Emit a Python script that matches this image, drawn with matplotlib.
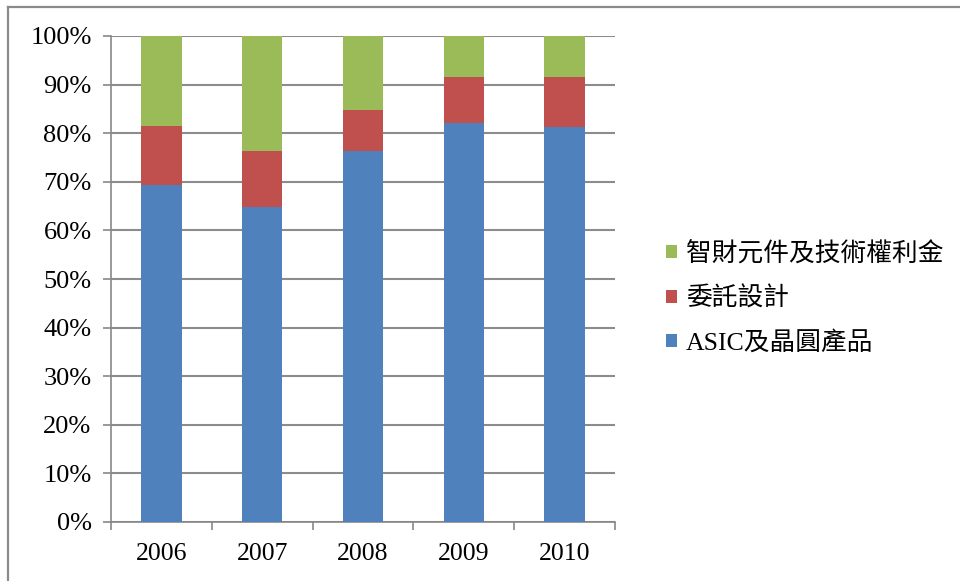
import matplotlib
matplotlib.use("Agg")
import matplotlib.pyplot as plt
from matplotlib.lines import Line2D
from matplotlib.ticker import PercentFormatter, FixedLocator

plt.rcParams['font.family'] = ['Liberation Serif', 'Noto Sans CJK TC']

years = ["2006", "2007", "2008", "2009", "2010"]
asic = [69.3, 64.9, 76.3, 82.0, 81.3]
design = [12.2, 11.4, 8.4, 9.6, 10.3]
ip = [18.5, 23.7, 15.3, 8.4, 8.4]

labels = ["ASIC及晶圓產品", "委託設計", "智財元件及技術權利金"]
colors = ["#4f81bd", "#c0504d", "#9bbb59"]

fig = plt.figure(figsize=(9.6, 5.81), dpi=100)
ax = fig.add_axes([111 / 960, 59 / 581, 504 / 960, 486 / 581])

x = range(len(years))
bottom = [0] * len(years)
for vals, lab, col in zip([asic, design, ip], labels, colors):
    ax.bar(x, vals, width=0.4, bottom=bottom, color=col, label=lab, zorder=3)
    bottom = [b + v for b, v in zip(bottom, vals)]

ax.set_xlim(-0.5, len(years) - 0.5)
ax.set_ylim(0, 100)
ax.yaxis.set_major_locator(FixedLocator(range(0, 101, 10)))
ax.yaxis.set_major_formatter(PercentFormatter(decimals=0))
ax.set_xticks(list(x))
ax.set_xticklabels(years)
ax.xaxis.set_minor_locator(FixedLocator([i - 0.5 for i in range(len(years) + 1)]))
ax.tick_params(axis='x', which='major', length=0, pad=15, labelsize=18.5)
ax.tick_params(axis='x', which='minor', length=6, color="#888888", width=1.2)
ax.tick_params(axis='y', length=6, color="#888888", width=1.2, pad=8, labelsize=19)

ax.grid(axis='y', color="#8c8c8c", linewidth=1.5, zorder=0)
for side in ["top", "right"]:
    ax.spines[side].set_visible(False)
for side in ["left", "bottom"]:
    ax.spines[side].set_color("#888888")
    ax.spines[side].set_linewidth(1.2)

handles, labs = ax.get_legend_handles_labels()
ax.legend(handles[::-1], labs[::-1], loc="center left", bbox_to_anchor=(643 / 960, 1 - 298 / 581),
          bbox_transform=fig.transFigure, frameon=False, fontsize=18.5,
          handlelength=0.42, handleheight=0.42, handletextpad=0.35, labelspacing=0.8)

# outer frame (top and left edges only)
fig.add_artist(Line2D([8 / 960, 1], [1 - 6.5 / 581, 1 - 6.5 / 581], transform=fig.transFigure,
                      color="#8a8a8a", linewidth=1.6))
fig.add_artist(Line2D([8 / 960, 8 / 960], [0, 1 - 6.5 / 581], transform=fig.transFigure,
                      color="#8a8a8a", linewidth=1.6))

fig.savefig("out.png", dpi=100)
